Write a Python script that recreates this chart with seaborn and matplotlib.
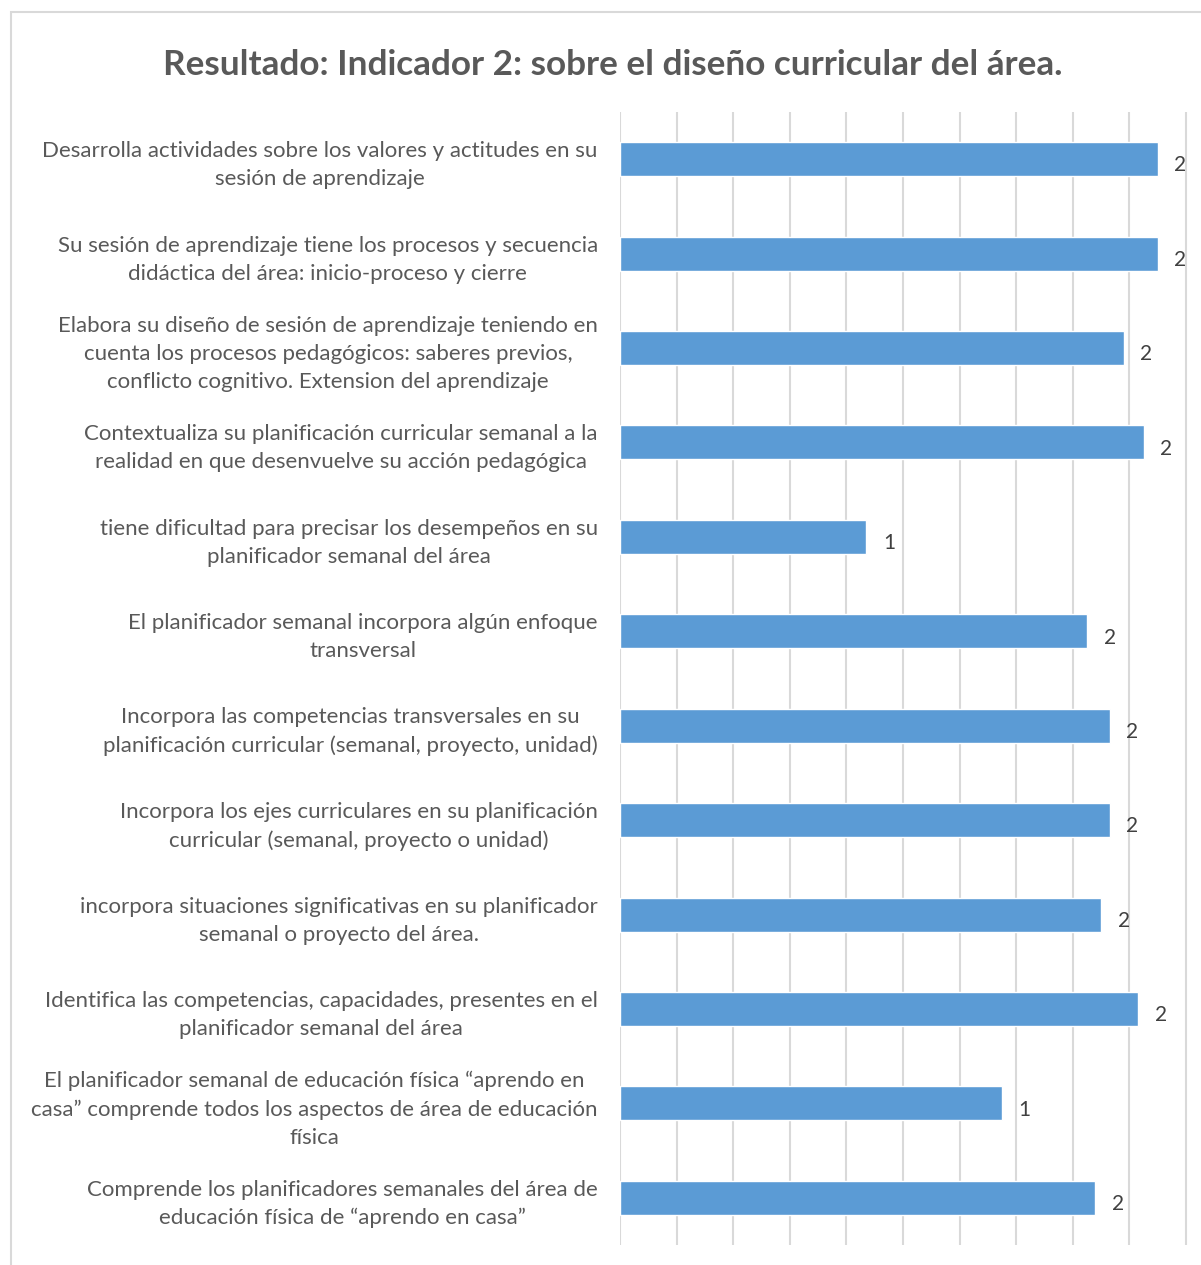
import matplotlib

matplotlib.use("Agg")
import matplotlib.pyplot as plt  # noqa: E402
import pandas as pd  # noqa: E402
import seaborn as sns  # noqa: E402
from matplotlib.patches import Rectangle  # noqa: E402

TITULO = "Resultado: Indicador 2: sobre el diseño curricular del área."

CATEGORIAS = [
    "Desarrolla actividades sobre los valores y actitudes en su\nsesión de aprendizaje",
    "Su sesión de aprendizaje tiene los procesos y secuencia\ndidáctica del área: inicio-proceso y cierre",
    "Elabora su diseño de sesión de aprendizaje teniendo en\ncuenta los procesos pedagógicos: saberes previos,\nconflicto cognitivo. Extension del aprendizaje",
    "Contextualiza su planificación curricular semanal a la\nrealidad en que desenvuelve su acción pedagógica",
    "tiene dificultad para precisar los desempeños en su\nplanificador semanal del área",
    "El planificador semanal incorpora algún enfoque\ntransversal",
    "Incorpora las competencias transversales en su\nplanificación curricular (semanal, proyecto, unidad)",
    "Incorpora los ejes curriculares en su planificación\ncurricular (semanal, proyecto o unidad)",
    "incorpora situaciones significativas en su planificador\nsemanal o proyecto del área.",
    "Identifica las competencias, capacidades, presentes en el\nplanificador semanal del área",
    "El planificador semanal de educación física “aprendo en\ncasa” comprende todos los aspectos de área de educación\nfísica",
    "Comprende los planificadores semanales del área de\neducación física de “aprendo en casa”",
]
VALORES = [1.90, 1.90, 1.78, 1.85, 0.87, 1.65, 1.73, 1.73, 1.70, 1.83, 1.35, 1.68]

AZUL = "#5b9bd5"
GRIS_TEXTO = "#595959"
GRIS_GRID = "#d9d9d9"

df = pd.DataFrame({"indicador": CATEGORIAS, "valor": VALORES})

sns.set_theme(style="white")
plt.rcParams["font.family"] = ["Lato", "DejaVu Sans"]

W, H = 1201, 1265
fig = plt.figure(figsize=(W / 100, H / 100), dpi=100)
fig.patch.set_facecolor("white")

# marco del gráfico (recortado a la derecha y abajo como en la captura)
fig.add_artist(Rectangle((11 / W, -0.05), 1.2, 1 - 12 / H + 0.05,
                         transform=fig.transFigure, fill=False,
                         edgecolor="#d9d9d9", linewidth=1.5))

ax = fig.add_axes([620 / W, 1 - 1245 / H, (W - 620) / W, (1245 - 112) / H])
sns.barplot(data=df, x="valor", y="indicador", orient="h", color=AZUL,
            width=0.36, saturation=1, ax=ax)

ax.set_xticks([i * 0.2 for i in range(11)])
ax.set_xlim(0, (W - 620) / 283.0)
ax.set_ylim(len(CATEGORIAS) - 0.5, -0.5)
ax.set_xticklabels([])
ax.tick_params(axis="x", length=0)
ax.tick_params(axis="y", length=0, pad=16, labelsize=16, labelcolor=GRIS_TEXTO)
for lbl in ax.get_yticklabels():
    lbl.set_multialignment("center")
    lbl.set_linespacing(1.5)
ax.xaxis.grid(True, color=GRIS_GRID, linewidth=1.5)
ax.set_axisbelow(True)
for s in ax.spines.values():
    s.set_visible(False)
ax.set_xlabel("")
ax.set_ylabel("")

etiquetas = ax.bar_label(ax.containers[0], fmt="%.0f", padding=12,
                         fontsize=15, color="#404040")
for t in etiquetas:
    t.xyann = (12, -4.5)

fig.text(613 / W, 1 - 65 / H, TITULO, ha="center", va="center",
         fontsize=25.3, fontweight="bold", color=GRIS_TEXTO)

fig.savefig("out.png", dpi=100)
